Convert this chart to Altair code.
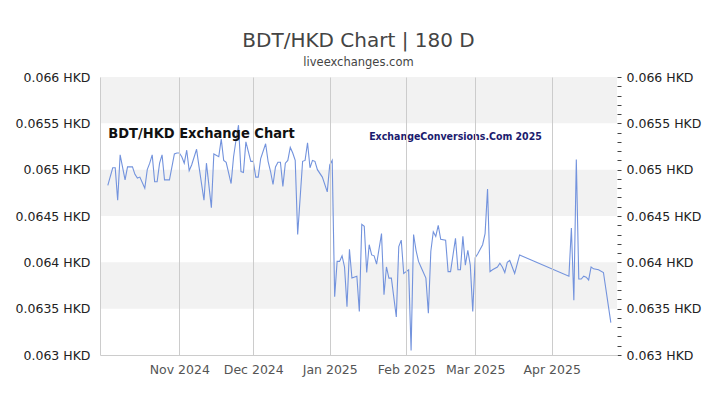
import altair as alt
import pandas as pd

# ---- data ----
dates = [
    "2024-10-03", "2024-10-05", "2024-10-06", "2024-10-07", "2024-10-08", "2024-10-10", "2024-10-11", "2024-10-13", "2024-10-14", "2024-10-15",
    "2024-10-16", "2024-10-18", "2024-10-19", "2024-10-20", "2024-10-21", "2024-10-22", "2024-10-23", "2024-10-24", "2024-10-25", "2024-10-26",
    "2024-10-28", "2024-10-30", "2024-10-31", "2024-11-01", "2024-11-02", "2024-11-03", "2024-11-04", "2024-11-05", "2024-11-06", "2024-11-08",
    "2024-11-09", "2024-11-11", "2024-11-12", "2024-11-14", "2024-11-15", "2024-11-17", "2024-11-18", "2024-11-19", "2024-11-20", "2024-11-22",
    "2024-11-23", "2024-11-24", "2024-11-25", "2024-11-26", "2024-11-27", "2024-11-28", "2024-11-30", "2024-12-01", "2024-12-02", "2024-12-03",
    "2024-12-04", "2024-12-06", "2024-12-07", "2024-12-08", "2024-12-09", "2024-12-10", "2024-12-11", "2024-12-12", "2024-12-13", "2024-12-14",
    "2024-12-15", "2024-12-16", "2024-12-17", "2024-12-18", "2024-12-19", "2024-12-21", "2024-12-22", "2024-12-23", "2024-12-24", "2024-12-25",
    "2024-12-26", "2024-12-27", "2024-12-29", "2024-12-31", "2025-01-01", "2025-01-02", "2025-01-03", "2025-01-04", "2025-01-05", "2025-01-06",
    "2025-01-07", "2025-01-08", "2025-01-09", "2025-01-10", "2025-01-12", "2025-01-13", "2025-01-14", "2025-01-15", "2025-01-16", "2025-01-17",
    "2025-01-18", "2025-01-19", "2025-01-20", "2025-01-22", "2025-01-23", "2025-01-24", "2025-01-25", "2025-01-26", "2025-01-28", "2025-01-29",
    "2025-01-30", "2025-01-31", "2025-02-01", "2025-02-02", "2025-02-03", "2025-02-04", "2025-02-05", "2025-02-06", "2025-02-07", "2025-02-09",
    "2025-02-10", "2025-02-11", "2025-02-12", "2025-02-13", "2025-02-14", "2025-02-15", "2025-02-17", "2025-02-18", "2025-02-19", "2025-02-21",
    "2025-02-22", "2025-02-23", "2025-02-24", "2025-02-25", "2025-02-26", "2025-02-27", "2025-02-28", "2025-03-01", "2025-03-02", "2025-03-04",
    "2025-03-05", "2025-03-06", "2025-03-07", "2025-03-08", "2025-03-10", "2025-03-11", "2025-03-12", "2025-03-13", "2025-03-14", "2025-03-15",
    "2025-03-17", "2025-03-19", "2025-04-08", "2025-04-09", "2025-04-10", "2025-04-11", "2025-04-12", "2025-04-13", "2025-04-14", "2025-04-15",
    "2025-04-16", "2025-04-17", "2025-04-18", "2025-04-20", "2025-04-22", "2025-04-25",
]
rates = [
    0.06483, 0.06502, 0.06502, 0.06467, 0.06516, 0.06489, 0.06503, 0.06503, 0.06495, 0.06491,
    0.06492, 0.06480, 0.06500, 0.06507, 0.06516, 0.06487, 0.06487, 0.06507, 0.06516, 0.06489,
    0.06489, 0.06517, 0.06518, 0.06518, 0.06514, 0.06507, 0.06521, 0.06499, 0.06505, 0.06522,
    0.06503, 0.06467, 0.06507, 0.06459, 0.06517, 0.06514, 0.06533, 0.06510, 0.06508, 0.06485,
    0.06514, 0.06532, 0.06548, 0.06498, 0.06497, 0.06530, 0.06509, 0.06509, 0.06492, 0.06492,
    0.06512, 0.06528, 0.06509, 0.06498, 0.06484, 0.06503, 0.06508, 0.06508, 0.06482, 0.06507,
    0.06510, 0.06524, 0.06518, 0.06510, 0.06430, 0.06509, 0.06510, 0.06529, 0.06502, 0.06510,
    0.06509, 0.06500, 0.06492, 0.06476, 0.06505, 0.06510, 0.06363, 0.06401, 0.06401, 0.06407,
    0.06395, 0.06352, 0.06414, 0.06383, 0.06385, 0.06347, 0.06441, 0.06439, 0.06389, 0.06419,
    0.06408, 0.06407, 0.06398, 0.06431, 0.06365, 0.06395, 0.06383, 0.06383, 0.06341, 0.06417,
    0.06424, 0.06388, 0.06390, 0.06392, 0.06305, 0.06430, 0.06413, 0.06401, 0.06395, 0.06383,
    0.06345, 0.06412, 0.06433, 0.06428, 0.06440, 0.06425, 0.06424, 0.06390, 0.06390, 0.06426,
    0.06392, 0.06392, 0.06428, 0.06397, 0.06413, 0.06397, 0.06347, 0.06405, 0.06409, 0.06419,
    0.06431, 0.06479, 0.06390, 0.06392, 0.06395, 0.06399, 0.06395, 0.06389, 0.06400, 0.06402,
    0.06388, 0.06408, 0.06385, 0.06437, 0.06359, 0.06511, 0.06382, 0.06382, 0.06385, 0.06384,
    0.06381, 0.06395, 0.06393, 0.06392, 0.06389, 0.06335,
]

band_lo = [0.0655, 0.0645, 0.0635]
band_hi = [0.0660, 0.0650, 0.0640]

y_major = [0.063, 0.0635, 0.064, 0.0645, 0.065, 0.0655, 0.066]
y_minor = [0.063, 0.0631, 0.0632, 0.0633, 0.0634, 0.0635, 0.0636, 0.0637, 0.0638, 0.0639,
           0.064, 0.0641, 0.0642, 0.0643, 0.0644, 0.0645, 0.0646, 0.0647, 0.0648, 0.0649,
           0.065, 0.0651, 0.0652, 0.0653, 0.0654, 0.0655, 0.0656, 0.0657, 0.0658, 0.0659, 0.066]
month_ticks = ["2024-11-01", "2024-12-01", "2025-01-01", "2025-02-01", "2025-03-01", "2025-04-01"]
x_start, x_end = "2024-09-29T20:00:00Z", "2025-04-27T12:00:00Z"

notes_text = ["BDT/HKD Exchange Chart", "ExchangeConversions.Com 2025"]
notes_date = ["2024-11-10", "2025-02-21"]
notes_rate = [0.065385, 0.065353]

# ---- tables ----
df = pd.DataFrame({"date": dates, "rate": rates})
bands = pd.DataFrame({"lo": band_lo, "hi": band_hi, "x0": [x_start] * 3, "x1": [x_end] * 3})
notes = pd.DataFrame({"date": notes_date, "rate": notes_rate, "label": notes_text})

def utc_ms(s):
    return int(pd.Timestamp(s, tz="UTC").value // 10**6)

W, H = 517, 278
FONT = "DejaVu Sans"

xscale = alt.Scale(type="utc", domain=[utc_ms(x_start), utc_ms(x_end)])
yscale = alt.Scale(domain=[0.063, 0.066], nice=False, zero=False)

xaxis = alt.Axis(
    values=[utc_ms(s) for s in month_ticks],
    labelExpr="utcFormat(datum.value, '%b %Y')", grid=True, gridColor="#cccccc",
    tickSize=0, domainColor="#cccccc", labelColor="#555555",
    labelFont=FONT, labelFontSize=12.5, labelPadding=8, labelOverlap=False, zindex=1,
)
yaxis_left = alt.Axis(
    orient="left", values=y_major, labelExpr="datum.value + ' HKD'", tickSize=0, grid=False,
    domainColor="#cccccc", labelPadding=10, labelFont=FONT, labelFontSize=12.5,
    labelColor="#222222", labelOverlap=False, zindex=1,
)
yaxis_right = alt.Axis(
    orient="right", values=y_minor,
    labelExpr="round(datum.value * 10000) % 5 == 0 ? datum.value + ' HKD' : ''",
    tickSize=4, tickColor="#444444", domain=False, grid=False, labelPadding=5,
    labelFont=FONT, labelFontSize=12.5, labelColor="#222222", labelOverlap=False,
)

band_layer = alt.Chart(bands).mark_rect(color="#f2f2f2").encode(
    x=alt.X("x0:T", scale=xscale, axis=None),
    x2="x1:T",
    y=alt.Y("lo:Q", scale=yscale, axis=None),
    y2="hi:Q",
)

# invisible layer carrying the bottom and left axes
axis_layer = alt.Chart(df).mark_line(opacity=0).encode(
    x=alt.X("date:T", scale=xscale, title=None, axis=xaxis),
    y=alt.Y("rate:Q", scale=yscale, title=None, axis=yaxis_left),
)

line_layer = alt.Chart(df).mark_line(color="#7393dd", strokeWidth=1.1).encode(
    x=alt.X("date:T", scale=xscale, axis=None),
    y=alt.Y("rate:Q", scale=yscale, axis=None),
)

note_font = "Liberation Sans Narrow, DejaVu Sans Condensed, sans-serif"
note1 = alt.Chart(notes.iloc[[0]]).mark_text(
    font=note_font, fontWeight="bold", fontSize=14.5, color="#111111",
    align="center", baseline="middle",
).encode(
    x=alt.X("date:T", scale=xscale, axis=None),
    y=alt.Y("rate:Q", scale=yscale, axis=None),
    text="label:N",
)
note2 = alt.Chart(notes.iloc[[1]]).mark_text(
    font=note_font, fontWeight="bold", fontSize=10.5, color="#1b1b6e",
    align="center", baseline="middle",
).encode(
    x=alt.X("date:T", scale=xscale, axis=None),
    y=alt.Y("rate:Q", scale=yscale, axis=None),
    text="label:N",
)

right_layer = alt.Chart(df).mark_line(opacity=0).encode(
    x=alt.X("date:T", scale=xscale, axis=None),
    y=alt.Y("rate:Q", scale=yscale, title=None, axis=yaxis_right),
)

chart = alt.layer(
    band_layer, axis_layer, line_layer, note1, note2, right_layer
).resolve_scale(x="independent", y="independent").properties(
    width=W,
    height=H,
    background="white",
    title=alt.TitleParams(
        text="BDT/HKD Chart | 180 D", subtitle="liveexchanges.com", anchor="middle",
        font=FONT, fontSize=20, fontWeight="normal", color="#444444",
        subtitleFont=FONT, subtitleFontSize=11.5, subtitleColor="#444444",
        subtitlePadding=6, offset=3,
    ),
    autosize=alt.AutoSizeParams(type="none"),
    padding={"left": 100, "top": 77, "right": 103, "bottom": 50},
).configure_view(stroke=None)

chart.save("out.html", embed_options={"renderer": "svg", "actions": False})
